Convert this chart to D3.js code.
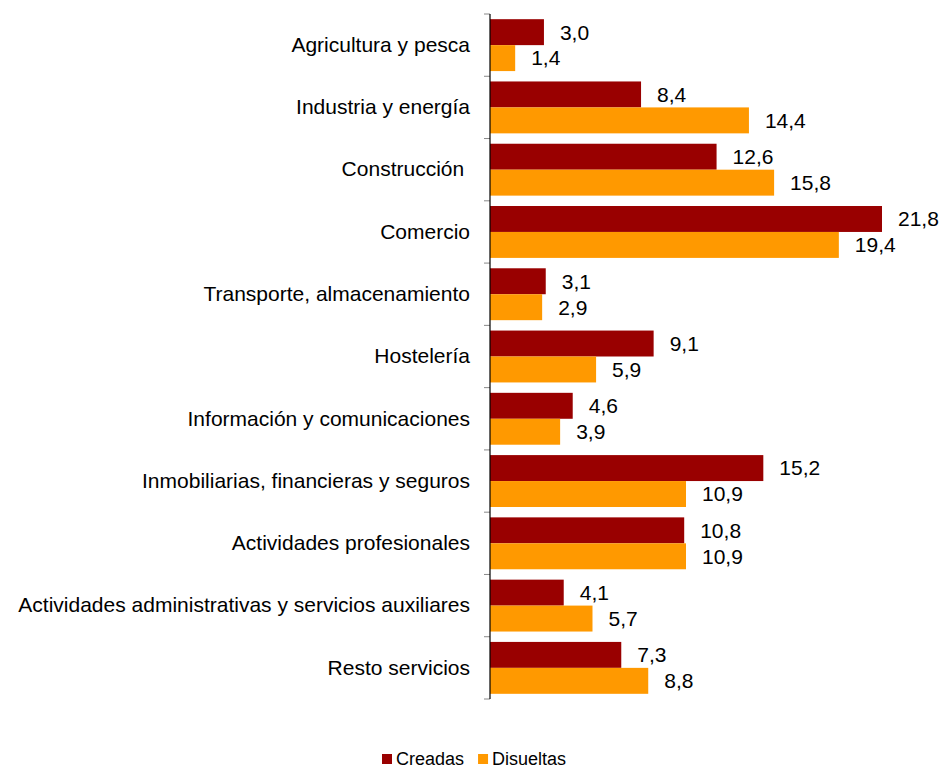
<!DOCTYPE html>
<html>
<head>
<meta charset="utf-8">
<script src="https://cdn.jsdelivr.net/npm/d3@7"></script>
<style>
  body { margin: 0; background: #fff; }
  svg text { font-family: Arial, "Liberation Sans", sans-serif; fill: #000; white-space: pre; }
</style>
</head>
<body>
<svg id="chart" width="940" height="769"></svg>
<script>
// DATA
const categories = [
  'Agricultura y pesca',
  'Industria y energía',
  'Construcción ',
  'Comercio',
  'Transporte, almacenamiento',
  'Hostelería',
  'Información y comunicaciones',
  'Inmobiliarias, financieras y seguros',
  'Actividades profesionales',
  'Actividades administrativas y servicios auxiliares',
  'Resto servicios'
];
const seriesNames = ['Creadas', 'Disueltas'];
const creadas = [3.0, 8.4, 12.6, 21.8, 3.1, 9.1, 4.6, 15.2, 10.8, 4.1, 7.3];
const disueltas = [1.4, 14.4, 15.8, 19.4, 2.9, 5.9, 3.9, 10.9, 10.9, 5.7, 8.8];
const colors = ['#990000', '#FF9900'];

// SETUP
let svg = d3.select('svg'),
  margin = { top: 14, right: 58, bottom: 70, left: 490 },
  width = 940 - margin.left - margin.right,
  height = 769 - margin.top - margin.bottom;

let y = d3.scaleBand().domain(categories).range([0, height]);
let ySub = d3.scaleBand().domain(seriesNames).range([0, y.bandwidth()]).paddingOuter(0.2);
let x = d3.scaleLinear().domain([0, 21.8]).range([0, 392]);
const fmt = d => d3.format('.1f')(d).replace('.', ',');

let g = svg.append('g')
  .attr('transform', 'translate(' + margin.left + ',' + margin.top + ')');

// BARS
const rows = categories.map((c, i) => ({ cat: c, values: [creadas[i], disueltas[i]] }));
let groups = g.selectAll('.grp').data(rows).enter().append('g')
  .attr('class', 'grp')
  .attr('transform', d => 'translate(0,' + y(d.cat) + ')');

groups.selectAll('rect')
  .data(d => d.values.map((v, k) => ({ k: k, v: v })))
  .enter().append('rect')
  .attr('x', 0)
  .attr('y', d => ySub(seriesNames[d.k]))
  .attr('width', d => x(d.v))
  .attr('height', ySub.bandwidth())
  .attr('fill', d => colors[d.k]);

groups.selectAll('.val')
  .data(d => d.values.map((v, k) => ({ k: k, v: v })))
  .enter().append('text')
  .attr('class', 'val')
  .attr('x', d => x(d.v) + 16)
  .attr('y', d => ySub(seriesNames[d.k]) + ySub.bandwidth() / 2)
  .attr('dy', '0.35em')
  .style('font-size', '21px')
  .text(d => fmt(d.v));

// AXIS
g.append('g').attr('class', 'axis--y')
  .call(d3.axisLeft(y).tickSize(0).tickPadding(20))
  .call(s => s.select('.domain').remove())
  .selectAll('text')
  .style('font-size', '21px');

// ticks on the category boundaries
const bounds = categories.map(c => y(c)).concat([height]);
g.selectAll('.tick-b').data(bounds).enter().append('line')
  .attr('class', 'tick-b')
  .attr('x1', -6).attr('x2', 0)
  .attr('y1', d => d).attr('y2', d => d)
  .attr('stroke', '#888').attr('stroke-width', 1);

g.append('line')
  .attr('x1', 0).attr('x2', 0)
  .attr('y1', 0).attr('y2', height)
  .attr('stroke', '#000').attr('stroke-width', 1.2);

// LEGEND
let legend = svg.append('g').attr('transform', 'translate(382,752)');
let lx = 0;
seriesNames.forEach((s, i) => {
  let item = legend.append('g').attr('transform', 'translate(' + lx + ',0)');
  item.append('rect').attr('y', 2).attr('width', 10).attr('height', 10).attr('fill', colors[i]);
  let t = item.append('text').attr('x', 14).attr('y', 13)
    .style('font-size', '18px').text(s);
  lx += 14 + t.node().getComputedTextLength() + 14;
});
</script>
</body>
</html>
